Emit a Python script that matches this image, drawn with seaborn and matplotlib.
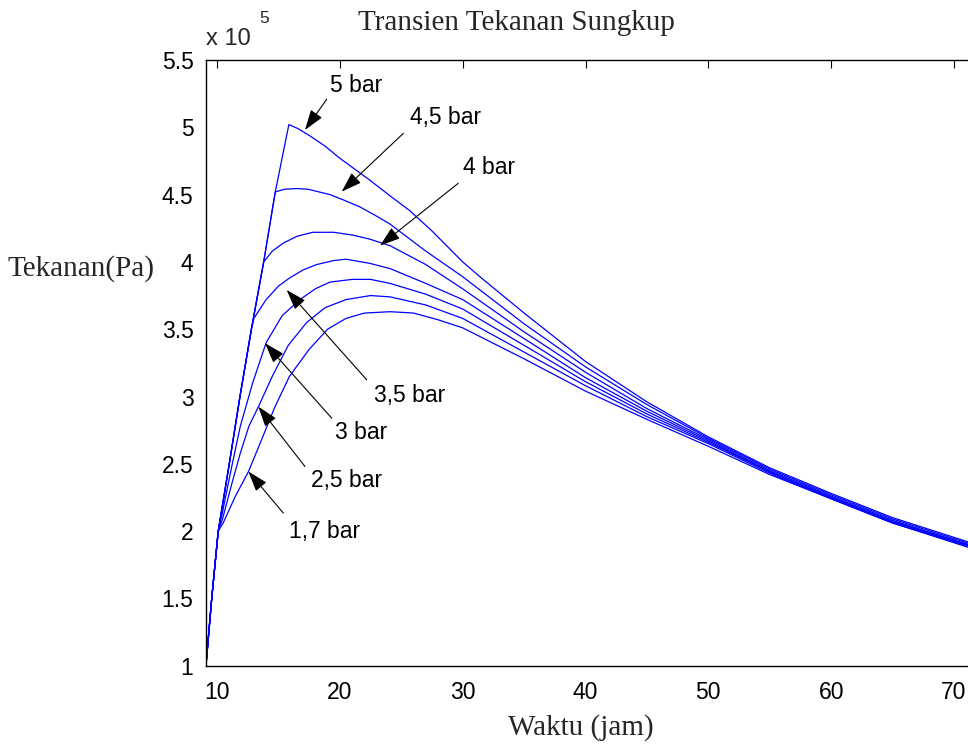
import numpy as np
import pandas as pd
import matplotlib
matplotlib.use("Agg")
import matplotlib.pyplot as plt
import seaborn as sns

# ---- data (pressure in units of 1e5 Pa, time in hours) ----
labels = ["5 bar", "4,5 bar", "4 bar", "3,5 bar", "3 bar", "2,5 bar", "1,7 bar"]

x_5 = [9.10, 9.57, 10.1, 11.0, 11.87, 12.8, 13.8, 14.7, 15.85, 16.6, 17.5, 18.8, 20.0, 21.2, 22.4,
       24.1, 25.7, 27.5, 30.0, 31.4, 35.0, 40.0, 45.0, 50.0, 55.0, 60.0, 65.0, 71.14]
y_5 = [1.00, 1.50, 2.00, 2.50, 3.00, 3.50, 4.00, 4.50, 5.02, 4.99, 4.94, 4.86, 4.77, 4.69, 4.61,
       4.49, 4.38, 4.23, 4.00, 3.89, 3.62, 3.26, 2.96, 2.70, 2.47, 2.28, 2.10, 1.92]

x_45 = [9.10, 9.57, 10.1, 11.0, 11.87, 12.8, 13.8, 14.75, 15.5, 16.5, 17.4, 18.3, 19.2, 20.3, 21.6,
        22.8, 24.1, 27.0, 30.0, 35.0, 40.0, 45.0, 50.0, 55.0, 60.0, 65.0, 71.14]
y_45 = [1.00, 1.50, 2.00, 2.50, 3.00, 3.50, 4.00, 4.52, 4.54, 4.545, 4.54, 4.52, 4.50, 4.46, 4.41,
        4.35, 4.28, 4.08, 3.89, 3.54, 3.22, 2.94, 2.69, 2.46, 2.27, 2.09, 1.91]

x_4 = [9.10, 9.57, 10.1, 11.0, 11.87, 12.8, 13.8, 14.5, 15.4, 16.5, 17.8, 19.5, 21.0, 22.4, 24.1,
       27.0, 30.0, 35.0, 40.0, 45.0, 50.0, 55.0, 60.0, 65.0, 71.14]
y_4 = [1.00, 1.50, 2.00, 2.50, 3.00, 3.50, 4.00, 4.08, 4.14, 4.19, 4.22, 4.22, 4.20, 4.17, 4.12,
       3.98, 3.80, 3.48, 3.18, 2.91, 2.68, 2.45, 2.26, 2.08, 1.90]

x_35 = [9.10, 9.57, 10.1, 11.0, 11.87, 12.8, 13.0, 14.0, 15.0, 15.9, 17.0, 18.1, 19.5, 20.5, 22.4,
        24.1, 27.0, 30.0, 35.0, 40.0, 45.0, 50.0, 55.0, 60.0, 65.0, 71.14]
y_35 = [1.00, 1.50, 2.00, 2.50, 3.00, 3.50, 3.58, 3.72, 3.82, 3.88, 3.94, 3.98, 4.01, 4.02, 3.99,
        3.95, 3.84, 3.72, 3.43, 3.14, 2.89, 2.67, 2.44, 2.25, 2.07, 1.90]

x_3 = [9.10, 9.57, 10.1, 10.4, 11.2, 11.9, 12.9, 14.0, 15.3, 16.75, 18.0, 19.2, 21.0, 22.5, 24.1,
       27.0, 30.0, 35.0, 40.0, 45.0, 50.0, 55.0, 60.0, 65.0, 71.14]
y_3 = [1.00, 1.50, 2.00, 2.12, 2.48, 2.78, 3.10, 3.40, 3.60, 3.72, 3.80, 3.85, 3.87, 3.87, 3.84,
       3.76, 3.65, 3.38, 3.11, 2.87, 2.66, 2.44, 2.25, 2.07, 1.89]

x_25 = [9.10, 9.57, 10.1, 10.45, 11.2, 11.9, 12.6, 13.4, 14.5, 15.8, 17.3, 18.8, 20.5, 22.5, 24.1,
        27.0, 30.0, 35.0, 40.0, 45.0, 50.0, 55.0, 60.0, 65.0, 71.14]
y_25 = [1.00, 1.50, 2.00, 2.09, 2.35, 2.58, 2.78, 2.93, 3.15, 3.38, 3.55, 3.66, 3.72, 3.75, 3.74,
        3.68, 3.58, 3.33, 3.08, 2.85, 2.65, 2.43, 2.24, 2.06, 1.89]

x_17 = [9.10, 9.57, 10.1, 10.5, 11.5, 12.55, 13.5, 14.7, 15.9, 17.5, 19.0, 20.5, 22.0, 24.1, 26.0,
        28.0, 30.0, 35.0, 40.0, 45.0, 50.0, 55.0, 60.0, 65.0, 71.14]
y_17 = [1.00, 1.50, 2.00, 2.06, 2.26, 2.44, 2.65, 2.92, 3.15, 3.35, 3.50, 3.58, 3.62, 3.63, 3.62,
        3.57, 3.51, 3.28, 3.04, 2.83, 2.63, 2.42, 2.24, 2.06, 1.88]

series_x = [x_5, x_45, x_4, x_35, x_3, x_25, x_17]
series_y = [y_5, y_45, y_4, y_35, y_3, y_25, y_17]

y_ticks = [1, 1.5, 2, 2.5, 3, 3.5, 4, 4.5, 5, 5.5]
y_tick_labels = ["1", "1.5", "2", "2.5", "3", "3.5", "4", "4.5", "5", "5.5"]
x_ticks = [10, 20, 30, 40, 50, 60, 70]

# annotation: text position, arrow tail, arrow tip (data coords)
ann_text = [(21.32, 5.314), (28.64, 5.076), (32.14, 4.705), (25.71, 3.005),
            (21.76, 2.730), (20.58, 2.374), (18.79, 1.997)]
ann_tail = [(18.93, 5.208), (25.17, 4.955), (29.64, 4.584), (22.19, 3.124),
            (19.34, 2.839), (17.16, 2.480), (15.40, 2.134)]
ann_tip = [(17.16, 4.980), (20.15, 4.522), (23.27, 4.121), (15.67, 3.792),
           (13.91, 3.396), (13.36, 2.925), (12.55, 2.443)]

rows = []
for lab, xs, ys in zip(labels, series_x, series_y):
    for xv, yv in zip(xs, ys):
        rows.append({"Waktu": xv, "Tekanan": yv, "Kasus": lab})
df = pd.DataFrame(rows)

# ---- styling ----
sns.set_style("white")
plt.rcParams["font.family"] = ["Liberation Sans", "DejaVu Sans"]

fig = plt.figure(figsize=(9.68, 7.44), dpi=100)
ax = fig.add_axes([206 / 968, (744 - 665.7) / 744, 762 / 968, 605.7 / 744])

sns.lineplot(data=df, x="Waktu", y="Tekanan", hue="Kasus", units="Kasus",
             estimator=None, palette=["#0000ff"] * len(labels), legend=False,
             linewidth=0.9, ax=ax)

ax.set_xlim(9.104, 71.14)
ax.set_ylim(1, 5.5)
ax.set_xticks(x_ticks)
ax.set_xticklabels([str(t) for t in x_ticks])
ax.set_yticks(y_ticks)
ax.set_yticklabels(y_tick_labels)
ax.set_xlabel("")
ax.set_ylabel("")
ax.tick_params(axis="both", direction="in", length=6, width=0.8, labelsize=16.5,
               top=True, right=False, colors="black")
ax.tick_params(axis="x", pad=11)
ax.tick_params(axis="y", pad=9)
for side in ["left", "bottom", "top"]:
    ax.spines[side].set_visible(True)
    ax.spines[side].set_color("black")
    ax.spines[side].set_linewidth(1.0)
ax.spines["right"].set_visible(False)

for lab, tp, tl, tip in zip(labels, ann_text, ann_tail, ann_tip):
    ax.annotate("", xy=tip, xytext=tl,
                arrowprops=dict(arrowstyle="-|>,head_length=0.9,head_width=0.3",
                                mutation_scale=14, color="black", lw=0.8,
                                shrinkA=0, shrinkB=0))
    ax.text(tp[0], tp[1], lab, ha="center", va="center", fontsize=16.5, color="black")

serif = ["Liberation Serif", "DejaVu Serif"]
fig.text(516 / 968, 1 - 29.5 / 744, "Transien Tekanan Sungkup", ha="center",
         va="baseline", fontsize=21, family=serif)
fig.text(581 / 968, 1 - 735 / 744, "Waktu (jam)", ha="center", va="baseline",
         fontsize=21, family=serif)
fig.text(8 / 968, 1 - 269 / 744, "Tekanan(Pa)", ha="left", va="center",
         fontsize=21, family=serif)
fig.text(206.5 / 968, 1 - 45 / 744, "x 10", ha="left", va="baseline", fontsize=17)
fig.text(259 / 968, 1 - 23 / 744, "5", ha="left", va="baseline", fontsize=12.5)

fig.savefig("out.png", dpi=100, facecolor="white")
